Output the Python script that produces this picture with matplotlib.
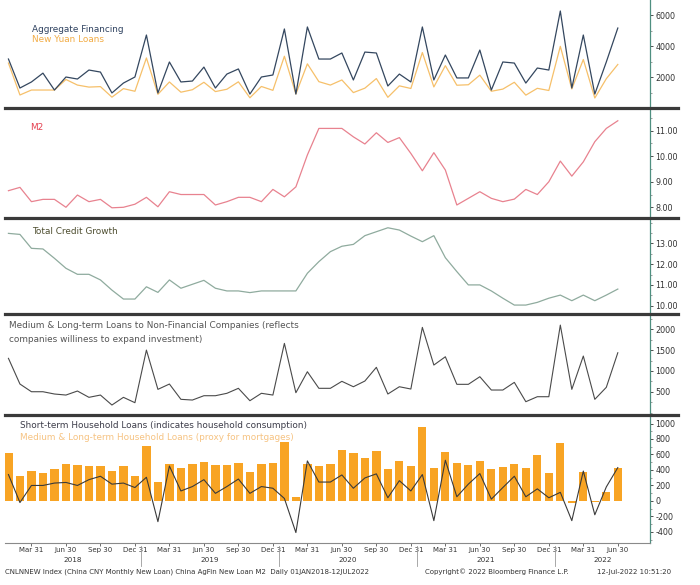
import matplotlib
matplotlib.use("Agg")
import matplotlib.pyplot as plt
import matplotlib.transforms as mtransforms
from matplotlib.lines import Line2D
from matplotlib.ticker import MultipleLocator
import numpy as np

plt.rcParams['font.family'] = ['DejaVu Sans']
plt.rcParams['axes.unicode_minus'] = False

# ---------------- data (monthly, Jan 2018 - Jun 2022) ----------------
months = [f"{y}-{m:02d}" for y in range(2018, 2023) for m in range(1, 13)][:54]

aggregate_financing = [3160, 1290, 1680, 2250, 1160, 2000, 1870, 2450, 2320, 970, 1610, 2000,
                       4710, 970, 2970, 1680, 1740, 2640, 1290, 2190, 2520, 900, 2000, 2130,
                       5100, 900, 5230, 3160, 3160, 3550, 1810, 3610, 3550, 1420, 2190, 1680,
                       5230, 1810, 3420, 1940, 1940, 3740, 1160, 2970, 2900, 1610, 2580, 2450,
                       6260, 1290, 4710, 900, 2970, 5160]
new_yuan_loans = [2900, 840, 1160, 1160, 1160, 1840, 1480, 1350, 1380, 700, 1250, 1080,
                  3230, 885, 1680, 1020, 1180, 1660, 1060, 1210, 1690, 660, 1390, 1140,
                  3340, 905, 2850, 1700, 1480, 1810, 995, 1280, 1900, 690, 1430, 1260,
                  3580, 1360, 2730, 1470, 1500, 2120, 1080, 1220, 1660, 830, 1270, 1130,
                  3980, 1230, 3130, 645, 1890, 2810]
m2_growth = [8.65, 8.78, 8.22, 8.31, 8.31, 8.00, 8.48, 8.22, 8.31, 7.98, 8.00, 8.12,
             8.39, 8.02, 8.61, 8.50, 8.50, 8.50, 8.09, 8.22, 8.39, 8.39, 8.22, 8.70,
             8.41, 8.80, 10.05, 11.09, 11.09, 11.09, 10.76, 10.48, 10.92, 10.54, 10.73, 10.11,
             9.43, 10.14, 9.46, 8.09, 8.35, 8.61, 8.35, 8.22, 8.32, 8.70, 8.50, 9.00,
             9.81, 9.22, 9.78, 10.57, 11.09, 11.39]
total_credit_growth = [13.48, 13.43, 12.76, 12.73, 12.28, 11.80, 11.51, 11.51, 11.24, 10.75, 10.32, 10.32,
                       10.91, 10.64, 11.24, 10.84, 11.03, 11.22, 10.84, 10.71, 10.71, 10.63, 10.71, 10.71,
                       10.71, 10.71, 11.56, 12.12, 12.60, 12.86, 12.95, 13.37, 13.56, 13.75, 13.64, 13.35,
                       13.08, 13.37, 12.31, 11.64, 11.00, 11.00, 10.71, 10.36, 10.03, 10.03, 10.16, 10.36,
                       10.51, 10.24, 10.51, 10.24, 10.51, 10.80]
mlt_corporate_loans = [1303, 685, 500, 500, 445, 420, 517, 365, 420, 180, 365, 236,
                       1502, 557, 685, 317, 300, 404, 404, 462, 582, 284, 462, 420,
                       1663, 476, 981, 582, 582, 750, 620, 757, 1087, 445, 620, 565,
                       2048, 1142, 1341, 678, 678, 861, 541, 541, 725, 260, 380, 380,
                       2103, 557, 1358, 317, 606, 1438]
mlt_household_loans = [613, 327, 384, 362, 406, 481, 463, 450, 450, 384, 450, 327,
                       706, 238, 472, 428, 481, 503, 459, 463, 494, 371, 481, 494,
                       759, 44, 481, 450, 481, 658, 613, 560, 640, 415, 516, 450,
                       958, 419, 636, 494, 459, 516, 406, 437, 472, 428, 592, 362,
                       751, -22, 375, -20, 119, 428]
st_household_loans = [340, -22, 199, 199, 230, 238, 199, 274, 318, 216, 230, 172,
                      305, -269, 450, 128, 185, 274, 97, 185, 282, 97, 185, 163,
                      31, -410, 516, 243, 243, 335, 163, 296, 349, 40, 261, 128,
                      340, -256, 525, 53, 216, 353, 22, 172, 318, 53, 155, 40,
                      110, -256, 385, -180, 180, 430]

quarter_names = {3: "Mar 31", 6: "Jun 30", 9: "Sep 30", 12: "Dec 31"}
years = ["2018", "2019", "2020", "2021", "2022"]

footer_left = "CNLNNEW Index (China CNY Monthly New Loan) China AgFin New Loan M2  Daily 01JAN2018-12JUL2022"
footer_mid = "Copyright\u00a9 2022 Bloomberg Finance L.P."
footer_right = "12-Jul-2022 10:51:20"

# ---------------- layout ----------------
W, H = 700, 585
fig = plt.figure(figsize=(7, 5.85), dpi=100)
fig.patch.set_facecolor("white")

x = np.arange(len(months))
XLIM = (-0.3, 55.8)
SPINE = "#4f8f80"
TXT = "#333333"

bounds = [(0, 108), (108, 218), (218, 314), (314, 415), (415, 543)]


def make_ax(top, bottom):
    ax = fig.add_axes([5 / W, 1 - bottom / H, 645 / W, (bottom - top) / H])
    ax.set_xlim(*XLIM)
    for s in ("left", "top", "bottom"):
        ax.spines[s].set_visible(False)
    ax.spines["right"].set_color(SPINE)
    ax.spines["right"].set_linewidth(0.9)
    ax.yaxis.tick_right()
    ax.tick_params(axis="y", which="major", labelsize=5.8, colors=TXT, length=2.5, width=0.6, pad=1.5)
    ax.tick_params(axis="y", which="minor", length=1.5, width=0.5, colors="#777777")
    ax.set_xticks([])
    return ax


axes = [make_ax(t, b) for t, b in bounds]

# Panel 1: Aggregate financing / new loans
ax = axes[0]
ax.plot(x, new_yuan_loans, color="#f6c06a", lw=0.9)
ax.plot(x, aggregate_financing, color="#34475f", lw=0.9)
ax.set_ylim(0, 6970)
ax.set_yticks([2000, 4000, 6000])
ax.yaxis.set_minor_locator(MultipleLocator(1000))

# Panel 2: M2
ax = axes[1]
ax.plot(x, m2_growth, color="#e8828f", lw=0.9)
ax.set_ylim(7.58, 11.89)
ax.set_yticks([8, 9, 10, 11])
ax.set_yticklabels(["8.00", "9.00", "10.00", "11.00"])
ax.yaxis.set_minor_locator(MultipleLocator(0.5))

# Panel 3: Total credit growth
ax = axes[2]
ax.plot(x, total_credit_growth, color="#8fab9e", lw=0.9)
ax.set_ylim(9.6, 14.22)
ax.set_yticks([10, 11, 12, 13])
ax.set_yticklabels(["10.00", "11.00", "12.00", "13.00"])
ax.yaxis.set_minor_locator(MultipleLocator(0.5))

# Panel 4: MLT corporate loans
ax = axes[3]
ax.plot(x, mlt_corporate_loans, color="#4a4a4a", lw=0.8)
ax.set_ylim(-60, 2370)
ax.set_yticks([500, 1000, 1500, 2000])
ax.yaxis.set_minor_locator(MultipleLocator(250))

# Panel 5: household loans
ax = axes[4]
ax.bar(x, mlt_household_loans, width=0.72, color="#f8a424", zorder=1)
ax.plot(x, st_household_loans, color="#3a3a3a", lw=0.8, zorder=2)
ax.set_ylim(-545, 1110)
ax.set_yticks([-400, -200, 0, 200, 400, 600, 800, 1000])
ax.yaxis.set_minor_locator(MultipleLocator(100))

# bottom axis
ax.spines["bottom"].set_visible(True)
ax.spines["bottom"].set_color("#8a8a8a")
ax.spines["bottom"].set_linewidth(0.8)
q_pos = [i for i, m in enumerate(months) if int(m[5:]) in quarter_names]
q_lab = [quarter_names[int(months[i][5:])] for i in q_pos]
ax.set_xticks(q_pos)
ax.set_xticklabels(q_lab)
ax.tick_params(axis="x", labelsize=5, colors=TXT, length=2, width=0.5, pad=1)
trans = mtransforms.blended_transform_factory(ax.transData, ax.transAxes)
h5 = bounds[4][1] - bounds[4][0]
edges = [-0.5 + 12 * k for k in range(len(years) + 1)]
for k, yr in enumerate(years):
    lo = max(edges[k], XLIM[0])
    hi = min(edges[k + 1], XLIM[1])
    ax.text((lo + hi) / 2, -17 / h5, yr, transform=trans, ha="center", va="center",
            fontsize=5.2, color=TXT)
for e in edges[1:-1]:
    ax.plot([e, e], [-3 / h5, -23 / h5], transform=trans, color="#9a9a9a", lw=0.6, clip_on=False)

# separators between panels
for t, b in bounds[1:]:
    fig.add_artist(Line2D([5 / W, 678 / W], [1 - t / H, 1 - t / H], transform=fig.transFigure,
                          color="#3a3a3a", lw=2.3, zorder=10))


# titles
def ftext(px, py, s, color, size=6.4):
    fig.text(px / W, 1 - py / H, s, color=color, fontsize=size, va="center", ha="left")


ftext(32, 30, "Aggregate Financing", "#2f4260")
ftext(32, 39, "New Yuan Loans", "#f2ac45")
ftext(30, 128, "M2", "#e43f4f")
ftext(32, 232, "Total Credit Growth", "#4d4d2f")
ftext(9, 325, "Medium & Long-term Loans to Non-Financial Companies (reflects", "#555555")
ftext(9, 339, "companies williness to expand investment)", "#555555")
ftext(20, 425, "Short-term Household Loans (indicates household consumption)", "#3d3d4a")
ftext(20, 437, "Medium & Long-term Household Loans (proxy for mortgages)", "#f6c382")

# footer
fig.text(5 / W, 1 - 572 / H, footer_left, fontsize=5, color=TXT, va="center", ha="left")
fig.text(425 / W, 1 - 572 / H, footer_mid, fontsize=5, color=TXT, va="center", ha="left")
fig.text(597 / W, 1 - 572 / H, footer_right, fontsize=5, color=TXT, va="center", ha="left")

fig.savefig("out.png", dpi=100, facecolor="white")
